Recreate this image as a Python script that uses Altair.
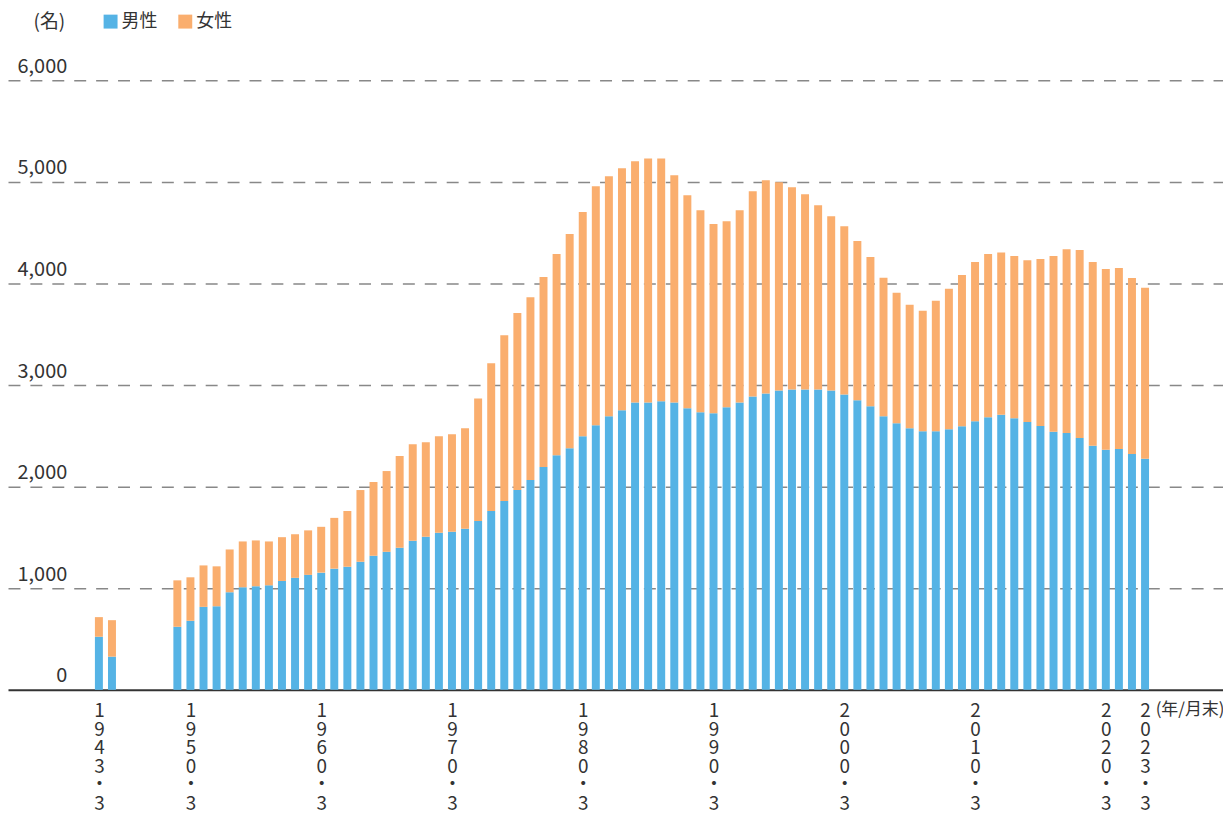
import altair as alt
import pandas as pd

years = [1943, 1944] + list(range(1949, 2024))

male = [523, 327,
        621, 680, 817, 823, 961, 1010, 1020, 1029, 1072, 1103, 1132,
        1154, 1193, 1212, 1261, 1320, 1359, 1399, 1467, 1507, 1546,
        1556, 1585, 1663, 1761, 1859, 1967, 2065, 2193, 2310, 2379,
        2497, 2605, 2693, 2752, 2830, 2830, 2840, 2830, 2771, 2732,
        2722, 2781, 2830, 2889, 2918, 2948, 2958, 2958, 2958, 2948,
        2908, 2850, 2791, 2693, 2624, 2575, 2546, 2546, 2565, 2595,
        2644, 2683, 2708, 2674, 2636, 2598, 2540, 2529, 2479, 2402,
        2364, 2372, 2322, 2276]

female = [193, 359,
          457, 428, 408, 393, 421, 451, 451, 432, 431, 429, 438,
          451, 500, 549, 706, 726, 795, 902, 951, 931, 951,
          960, 990, 1206, 1455, 1631, 1743, 1801, 1872, 1981, 2108,
          2206, 2353, 2363, 2382, 2373, 2402, 2392, 2235, 2098, 1990,
          1863, 1833, 1892, 2019, 2098, 2049, 1990, 1921, 1813, 1715,
          1657, 1568, 1470, 1363, 1284, 1216, 1186, 1284, 1383, 1490,
          1568, 1608, 1597, 1598, 1594, 1643, 1732, 1808, 1851, 1809,
          1778, 1781, 1732, 1682]

series = ["男性", "女性"]
colors = ["#55B3E5", "#FAAE6E"]
tick_years = [1943, 1950, 1960, 1970, 1980, 1990, 2000, 2010, 2020, 2023]
y_ticks = [0, 1000, 2000, 3000, 4000, 5000, 6000]

rows = []
for y, m, f in zip(years, male, female):
    rows.append({"year": y, "sex": series[0], "value": m, "ord": 0})
    rows.append({"year": y, "sex": series[1], "value": f, "ord": 1})
df = pd.DataFrame(rows)

FONT = "Noto Sans CJK JP"

chart = alt.Chart(df).mark_bar(size=8).encode(
    x=alt.X(
        "year:Q",
        scale=alt.Scale(domain=[1936.43, 2028.58], nice=False, zero=False),
        axis=alt.Axis(
            values=tick_years,
            format="d",
            labelExpr="split(datum.label + '・3', '')",
            labelFontSize=19,
            labelLineHeight=18.6,
            labelBaseline="top",
            labelPadding=12,
            labelColor="#333333",
            labelFont=FONT,
            labelAlign="center",
            labelOverlap=False,
            labelFlush=False,
            ticks=False,
            tickSize=0,
            grid=False,
            domain=True,
            domainColor="#333333",
            domainWidth=2,
            title="(年/月末)",
            titleX=1221,
            titleY=20,
            titleAlign="right",
            titleBaseline="middle",
            titleFontSize=17,
            titleFontWeight="normal",
            titleColor="#333333",
            titleFont=FONT,
        ),
    ),
    y=alt.Y(
        "value:Q",
        stack="zero",
        scale=alt.Scale(domain=[0, 6000], nice=False),
        axis=alt.Axis(
            values=y_ticks,
            format=",d",
            labelFontSize=20,
            labelAlign="right",
            labelBaseline="alphabetic",
            labelPadding=-59,
            labelOffset=-8,
            labelColor="#333333",
            labelFont=FONT,
            ticks=False,
            tickSize=0,
            domain=False,
            grid=True,
            gridColor=alt.condition("datum.value == 0", alt.value("transparent"), alt.value("#888888")),
            gridDash=[12, 10],
            gridWidth=1.5,
            title="(名)",
            titleAngle=0,
            titleX=41,
            titleY=-59,
            titleAlign="center",
            titleBaseline="middle",
            titleFontSize=19,
            titleFontWeight="normal",
            titleColor="#333333",
            titleFont=FONT,
        ),
    ),
    color=alt.Color(
        "sex:N",
        scale=alt.Scale(domain=series, range=colors),
        legend=alt.Legend(
            title=None,
            orient="none",
            legendX=94,
            legendY=-68,
            direction="horizontal",
            symbolType="square",
            symbolSize=196,
            symbolStrokeWidth=0,
            labelFontSize=18,
            labelFont=FONT,
            labelColor="#333333",
            labelOffset=2,
            columnPadding=19,
        ),
    ),
    order=alt.Order("ord:Q", sort="ascending"),
).properties(
    width=1220,
    height=612,
    autosize=alt.AutoSizeParams(type="none"),
    padding={"left": 0, "top": 71, "right": 0, "bottom": 125},
).configure(font=FONT).configure_view(stroke=None, strokeWidth=0)

chart.save("out.html", embed_options={"renderer": "svg", "actions": False})
